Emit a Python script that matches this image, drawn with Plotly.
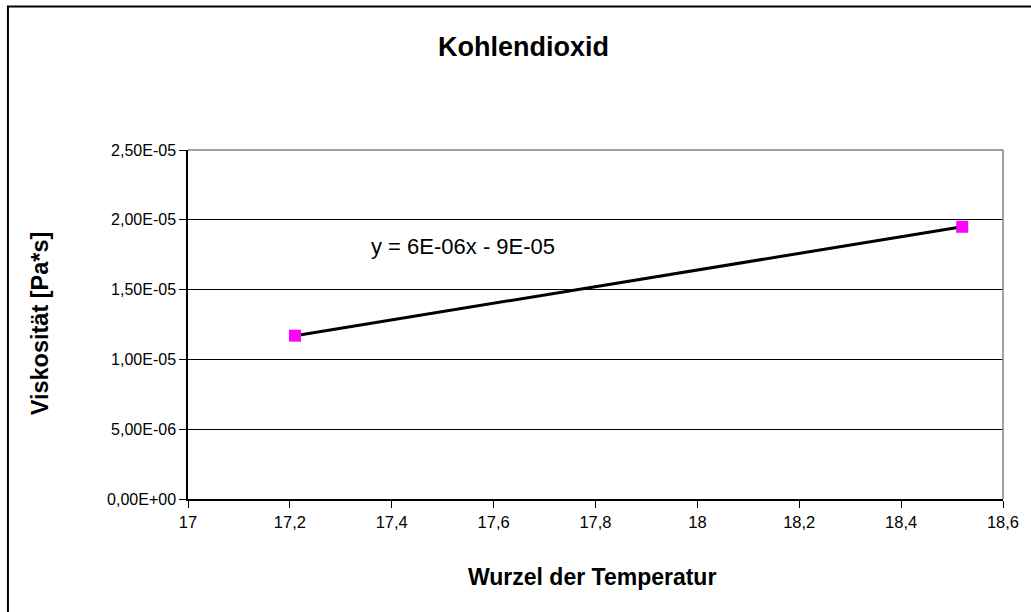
import numpy as np
import plotly.graph_objects as go

# Data
x_vals = [17.21, 18.52]          # Wurzel der Temperatur
y_vals = [1.17e-05, 1.95e-05]    # Viskosität [Pa*s]

x_ticks = [17.0, 17.2, 17.4, 17.6, 17.8, 18.0, 18.2, 18.4, 18.6]
x_tick_labels = ["17", "17,2", "17,4", "17,6", "17,8", "18", "18,2", "18,4", "18,6"]
y_ticks = [0, 5e-06, 1e-05, 1.5e-05, 2e-05, 2.5e-05]
y_tick_labels = ["0,00E+00", "5,00E-06", "1,00E-05", "1,50E-05", "2,00E-05", "2,50E-05"]

title_text = "Kohlendioxid"
x_title = "Wurzel der Temperatur"
y_title = "Viskosität [Pa*s]"
equation = "y = 6E-06x - 9E-05"

# linear trendline
slope, intercept = np.polyfit(x_vals, y_vals, 1)
tx = [min(x_vals), max(x_vals)]
ty = [slope * v + intercept for v in tx]

W, H = 1031, 612
L, R, T, B = 188, 1005, 150, 499

fig = go.Figure()
fig.add_trace(go.Scatter(x=tx, y=ty, mode="lines",
                         line=dict(color="black", width=3), showlegend=False,
                         hoverinfo="skip"))
fig.add_trace(go.Scatter(x=x_vals, y=y_vals, mode="markers",
                         marker=dict(symbol="square", size=12, color="#FF00FF",
                                     line=dict(width=0)),
                         showlegend=False))

font_family = "Liberation Sans, Arial, sans-serif"

def px_to_paper_x(p):
    return (p - L) / (R - L)

def px_to_paper_y(p):
    return (B - p) / (B - T)

shapes = [
    # outer chart frame (left & top visible)
    dict(type="line", xref="paper", yref="paper",
         x0=px_to_paper_x(7.5), x1=px_to_paper_x(7.5),
         y0=px_to_paper_y(6), y1=px_to_paper_y(620),
         line=dict(color="black", width=2)),
    dict(type="line", xref="paper", yref="paper",
         x0=px_to_paper_x(6.5), x1=px_to_paper_x(1040),
         y0=px_to_paper_y(6.5), y1=px_to_paper_y(6.5),
         line=dict(color="black", width=2)),
    # plot area border top/right gray
    dict(type="line", xref="paper", yref="paper", x0=0, x1=1, y0=1, y1=1,
         line=dict(color="#808080", width=1.5)),
    dict(type="line", xref="paper", yref="paper", x0=1, x1=1, y0=0, y1=1,
         line=dict(color="#808080", width=1.5)),
]

fig.update_layout(
    width=W, height=H,
    margin=dict(l=L, r=W - R, t=T, b=H - B),
    paper_bgcolor="white", plot_bgcolor="white",
    font=dict(family=font_family, color="black", size=16),
    xaxis=dict(range=[17, 18.6], tickvals=x_ticks, ticktext=x_tick_labels,
               showgrid=False, zeroline=False, showline=True, linecolor="black",
               linewidth=1.5, ticks="outside", ticklen=7, tickcolor="black",
               tickfont=dict(size=16.5)),
    yaxis=dict(range=[0, 2.5e-05], tickvals=y_ticks, ticktext=y_tick_labels,
               showgrid=True, gridcolor="black", gridwidth=1.2, zeroline=False,
               showline=True, linecolor="black", linewidth=1.5,
               ticks="outside", ticklen=7, tickcolor="black",
               tickfont=dict(size=16)),
    shapes=shapes,
    annotations=[
        dict(text=equation, xref="paper", yref="paper",
             x=px_to_paper_x(369), y=px_to_paper_y(246),
             xanchor="left", yanchor="middle", showarrow=False,
             font=dict(size=22, family=font_family, color="black")),
        dict(text="<b>" + title_text + "</b>", xref="paper", yref="paper",
             x=px_to_paper_x(524), y=px_to_paper_y(47),
             xanchor="center", yanchor="middle", showarrow=False,
             font=dict(size=27, family=font_family, color="black")),
        dict(text="<b>" + x_title + "</b>", xref="paper", yref="paper",
             x=px_to_paper_x(593), y=px_to_paper_y(577),
             xanchor="center", yanchor="middle", showarrow=False,
             font=dict(size=23, family=font_family, color="black")),
        dict(text="<b>" + y_title + "</b>", xref="paper", yref="paper",
             x=px_to_paper_x(40), y=px_to_paper_y(323),
             xanchor="center", yanchor="middle", showarrow=False, textangle=-90,
             font=dict(size=23.5, family=font_family, color="black")),
    ],
)

fig.write_html("out.html", config={"displayModeBar": False},
               post_script="document.body.style.margin='0';document.body.style.overflow='hidden';")
